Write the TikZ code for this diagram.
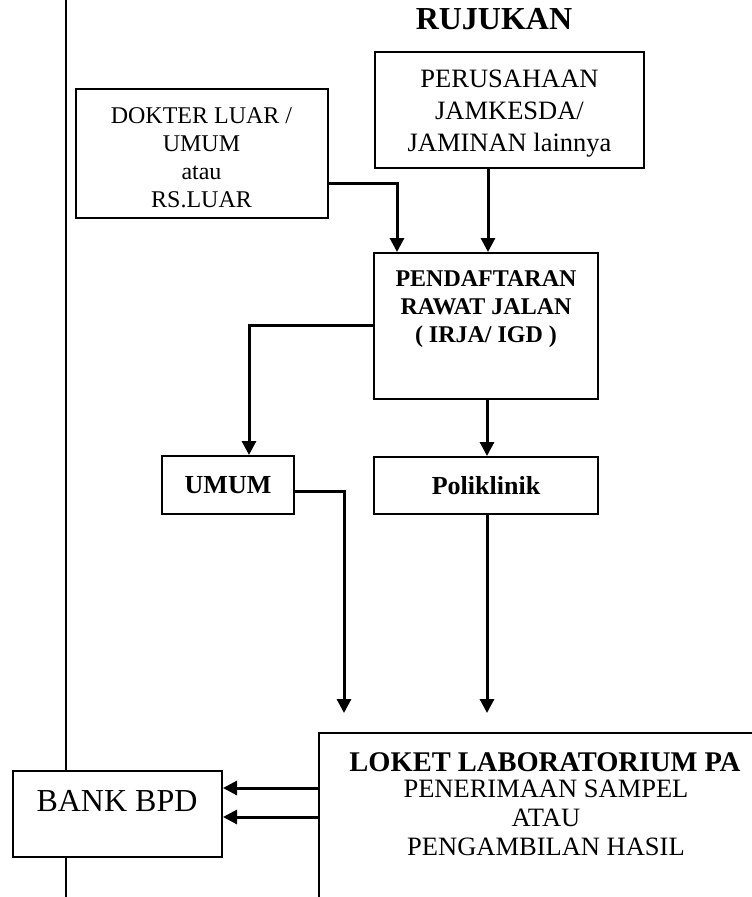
\documentclass[tikz,border=0pt]{standalone}
\usepackage{fontspec}
\setmainfont{Liberation Serif}
\usetikzlibrary{arrows.meta}
\begin{document}
\begin{tikzpicture}[x=1pt,y=-1pt,
  box/.style={draw, line width=2pt, inner sep=0pt, align=center, fill=white},
  conn/.style={line width=3pt, -{Triangle[length=14pt,width=14pt]}},
  txt/.style={align=center, inner sep=0pt}]
\useasboundingbox (0,0) rectangle (752,897);
\clip (0,0) rectangle (752,897);
\fill[white] (0,0) rectangle (752,897);
% left margin line
\draw[line width=1.2pt] (66,0) -- (66,897);
% title
\node[txt, font=\bfseries\fontsize{32}{38}\selectfont] (title) at (494,19) {RUJUKAN};
% boxes
\node[box, minimum width=269pt, minimum height=116pt] (per) at (509.5,110) {};
\node[txt, font=\fontsize{26.5}{32}\selectfont] (pert) at (509.5,114) {PERUSAHAAN\\JAMKESDA/\\JAMINAN lainnya};
\node[box, minimum width=252pt, minimum height=129pt] (dok) at (201.5,153.5) {};
\node[txt, font=\fontsize{24}{28}\selectfont] (dokt) at (201.5,158) {DOKTER LUAR /\\UMUM\\atau\\RS.LUAR};
\node[box, minimum width=224pt, minimum height=146pt] (pend) at (486,326) {};
\node[txt, font=\bfseries\fontsize{24}{28}\selectfont] (pendt) at (486,309.5) {PENDAFTARAN\\RAWAT JALAN\\( IRJA/ IGD )};
\node[box, minimum width=132pt, minimum height=58pt, font=\bfseries\fontsize{26}{30}\selectfont] (umum) at (228,485) {UMUM};
\node[box, minimum width=224pt, minimum height=57pt, font=\bfseries\fontsize{26}{30}\selectfont] (poli) at (486,485.5) {Poliklinik};
\node[box, minimum width=500pt, minimum height=250pt] (loket) at (569,858) {};
\node[txt, font=\bfseries\fontsize{28.5}{32}\selectfont] (lokett) at (545,762) {LOKET LABORATORIUM PA};
\node[txt, font=\fontsize{26.5}{29}\selectfont] (loketb) at (546,818) {PENERIMAAN SAMPEL\\ATAU\\PENGAMBILAN HASIL};
\node[box, minimum width=209pt, minimum height=86pt] (bank) at (117.5,814) {};
\node[txt, font=\fontsize{32}{38}\selectfont] (bankt) at (117,801) {BANK BPD};
% connectors
\coordinate (pa) at ([xshift=-21.5pt]per.south);
\draw[conn] (pa) -- (pa |- pend.north);
\coordinate (da) at ([xshift=-89pt]pend.north);
\draw[conn] ([yshift=-29.5pt]dok.east) -| (da);
\coordinate (ua) at ([xshift=21pt]umum.north);
\draw[conn] ([yshift=1pt]pend.west) -| (ua);
\draw[conn] ([xshift=1pt]pend.south) -- ([xshift=1pt]poli.north);
\coordinate (t1) at (344,713);
\draw[conn] ([yshift=-6pt]umum.east) -| (t1);
\draw[conn] ([xshift=1pt]poli.south) -- ([xshift=1pt]poli.south |- t1);
\coordinate (b1) at ([yshift=26pt]bank.east);
\coordinate (b2) at ([yshift=-3pt]bank.east);
\draw[conn] (loket.west |- b1) -- (b1);
\draw[conn] (loket.west |- b2) -- (b2);
\end{tikzpicture}
\end{document}
